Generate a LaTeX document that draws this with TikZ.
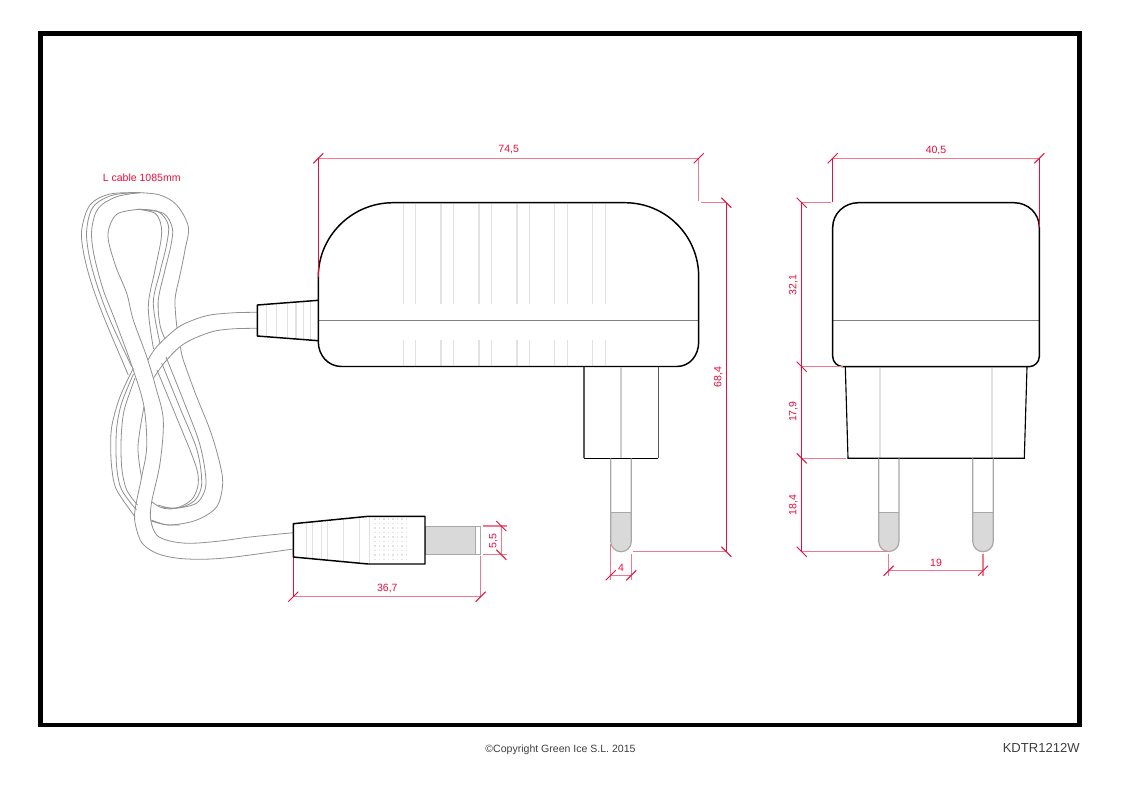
\documentclass[tikz,border=0pt]{standalone}
\usepackage{fontspec}
\setmainfont{Liberation Sans}
\definecolor{dimred}{HTML}{E6103C}
\definecolor{dimpink}{HTML}{F0788C}
\definecolor{cablegr}{HTML}{909090}
\definecolor{ribgr}{HTML}{E2E2E2}
\definecolor{pinfill}{HTML}{D9D9D9}
\definecolor{pinline}{HTML}{A8A8A8}
\tikzset{
  body/.style={draw=black,line width=1.1pt,line join=round},
  midline/.style={draw=black!50,line width=0.6pt},
  rib/.style={draw=ribgr,line width=0.9pt},
  cbl/.style={draw=cablegr,line width=0.6pt,smooth,tension=0.55},
  pinout/.style={draw=pinline,line width=0.9pt},
  dim/.style={draw=dimred,line width=0.75pt},
  diml/.style={draw=dimpink,line width=1.1pt},
  dimtxt/.style={text=dimred,font=\fontsize{7.9}{9}\selectfont,inner sep=0pt},
  foot/.style={text=black!75,inner sep=0pt}
}
\newcommand{\tickF}[2]{\draw[dim] ({#1-5},{#2+5}) -- ({#1+5},{#2-5});}
\newcommand{\tickB}[2]{\draw[dim] ({#1-5},{#2-5}) -- ({#1+5},{#2+5});}
\newcommand{\pinshape}[2]{%
  \fill[pinfill] (#1,512.3) -- (#1,541.4) arc[start angle=180,end angle=0,radius={(#2-#1)/2}] -- (#2,512.3) -- cycle;
  \draw[pinout] (#1,458.3) -- (#1,541.4) arc[start angle=180,end angle=0,radius={(#2-#1)/2}] -- (#2,458.3);
  \draw[draw=pinline,line width=0.7pt] (#1,512.3) -- (#2,512.3);}
\begin{document}
\begin{tikzpicture}[x=0.75pt,y=-0.75pt]
\useasboundingbox (0,0) rectangle (1123,794);
\fill[white] (0,0) rectangle (1123,794);
% frame
\draw[black,line width=3.6pt,line join=miter] (40.5,33.5) rectangle (1079.5,725);

% ===== cable =====
% band through the crossing, left edge
\draw[cbl] plot coordinates {(140,192.7)(116.7,196.7)(98.3,208.3)(91.7,230)(94,255)(103.3,290)(115,320)(133.3,370)(144,406.7)(146.7,446.7)(141.7,476.7)(135,510)(135.5,525)(142,543)(156.7,553.3)(176,558)(200,559.3)(225,558)(250,555)(293.3,549)};
% band, right edge
\draw[cbl] plot coordinates {(138.3,209.3)(118.3,213.3)(110,225)(108.3,240)(116,267)(126.7,293.3)(133.3,320)(146.7,356.7)(156,388)(163.3,420)(160,463.3)(151.7,501.7)(150.7,520)(156.7,535)(170,541)(190,543.3)(220,541)(250,537)(293.3,532.7)};
% outer coil lines, upper left
\draw[cbl] plot coordinates {(140,192.7)(110,194)(90,205)(81.7,230)(84,255)(92,285)(105,320)(128.3,375)};
\draw[cbl] plot coordinates {(140,192.7)(113,195)(93.3,206.7)(86.7,230)(89,255)(97,285)(110,320)(131.7,366.7)};
% inner loop, right side
\draw[cbl] plot coordinates {(138.3,209.3)(155,213.3)(161,225)(161,240)(155,270)(148.3,306.7)(153.5,349)};
\draw[cbl] plot coordinates {(138.3,209.3)(158.3,211.7)(168.3,225)(166.5,245)(160,272)(153.3,303.3)(160,343.5)};
\draw[cbl] plot coordinates {(138.3,209.3)(163.3,213.3)(172.3,228)(171,245)(165,270)(158.3,300)(160,325)(165,339)};
% outer right
\draw[cbl] plot coordinates {(140,192.7)(160,195)(176.7,205)(188.3,226.7)(185,250)(180,275)(175,300)(177,328)};
% strain-relief cable, right of the band
\draw[cbl] plot coordinates {(257.3,312.3)(235,312.7)(210,315)(192,320.5)(176.7,328.3)(156.7,346.7)(148,360)};
\draw[cbl] plot coordinates {(257.3,328.3)(235,328.7)(215,331)(195,338)(180,346.7)(165,362)(153.5,378)};
% lower right loop
\draw[cbl] plot coordinates {(157,370)(176,416)(195,463.3)(198.3,483)(193,498)(182,506)(170,509)(160,507)(151.7,501.7)};
\draw[cbl] plot coordinates {(161.7,363)(180,408)(197,450)(201.7,483)(196,499)(185,506)(172,508.5)(158,505)};
\draw[cbl] plot coordinates {(166,357)(184,402)(200,445)(206,483)(199,501)(187,506.5)(173,508)(162,507)};
\draw[cbl] plot coordinates {(180.5,347)(183.3,360)(196,395)(210,430)(219,460)(222.7,483.3)(216.7,506.7)(196.7,520)(170,525)(151.3,521)};
\draw[cbl] plot coordinates {(151.3,520)(165,524.5)(180,525)};
% lower left coil
\draw[cbl] plot coordinates {(133.3,368.3)(120,396.7)(112,425)(110.7,446.7)(112,470)(116.7,490)(135,516.7)};
\draw[cbl] plot coordinates {(133.5,374)(122,402)(117,425)(116,446.7)(117,470)(121.7,490)(136.5,510)};
\draw[cbl] plot coordinates {(135,378)(125,407)(122,425)(121,446.7)(122,470)(126.7,490)(137.5,505)};
\draw[cbl] plot coordinates {(144,406.7)(138,446.7)(141.7,478.3)};

% ===== strain relief =====
\foreach \x in {266.7,276.7,287.3,296,303.3,310.7}
  \draw[rib] (\x,{305-(\x-257.3)*0.077}) -- (\x,{336+(\x-257.3)*0.077});
\draw[body] (318.3,300.3) -- (257.3,305) -- (257.3,336) -- (318.3,340.7);

% ===== front body =====
\foreach \x in {403.3,415.7,441,453.7,479,491.7,517,529.3,554.7,567.3,592.7,605.3} {
  \draw[rib] (\x,204) -- (\x,303.7);
  \draw[rib] (\x,340) -- (\x,365.5);
}
\draw[midline] (318.3,320.3) -- (698.7,320.3);
\draw[body] (318.3,276.7) .. controls (318.3,236) and (352,202.7) .. (393,202.7) -- (625,202.7)
  .. controls (666,202.7) and (698.7,236) .. (698.7,276.7) -- (698.7,341.7)
  .. controls (698.7,355.3) and (690,366.5) .. (676.7,366.5) -- (341.7,366.5)
  .. controls (328,366.5) and (318.3,355.3) .. (318.3,341.7) -- cycle;
% front plug
\draw[draw=black!20,line width=1pt] (621,367) -- (621,458);
\draw[draw=black!65,line width=0.9pt] (584,366.7) -- (584,458.3);
\draw[draw=black!65,line width=0.9pt] (658.3,366.7) -- (658.3,458.3);
\draw[black,line width=0.85pt] (584,458.3) -- (658.3,458.3);
\pinshape{610.7}{631.3}

% ===== side view =====
\draw[midline] (832.7,320.3) -- (1039.3,320.3);
\draw[body] (832.7,227.3) .. controls (832.7,213.5) and (844.5,202.7) .. (858.3,202.7) -- (1014,202.7)
  .. controls (1028,202.7) and (1039.3,213.5) .. (1039.3,227.3) -- (1039.3,356.5)
  .. controls (1039.3,362) and (1034.5,366.7) .. (1029,366.7) -- (843,366.7)
  .. controls (837.5,366.7) and (832.7,362) .. (832.7,356.5) -- cycle;
\draw[rib,line width=1pt] (880,367.5) -- (880,458);
\draw[rib,line width=1pt] (992,367.5) -- (992,458);
\draw[black,line width=0.85pt] (845.3,366.7) -- (848,458.3) -- (1024.3,458.3) -- (1027,366.7);
\pinshape{878.7}{899}
\pinshape{972.7}{993.3}

% ===== DC plug =====
\foreach \x in {306.7,312.7,321.7,327.3,343.3,359.3}
  \draw[rib] (\x,{523.7-(\x-293.3)*0.0985}) -- (\x,{557+(\x-293.3)*0.0933});
\draw[rib] (369.3,517) -- (369.3,563.5);
\foreach \i in {0,...,7} \foreach \j in {0,...,9}
  \fill[ribgr] ({375+\i*4.5-0.75},{519+\j*4.5-0.75}) rectangle ++(1.5,1.5);
\fill[pinfill] (425,526) rectangle (475.7,554.7);
\draw[draw=pinline,line width=0.7pt] (425,526) rectangle (480.7,554.7);
\draw[draw=pinline,line width=0.7pt] (475.7,526) -- (475.7,554.7);
\draw[body] (293.3,523.7) -- (368.3,516.3) -- (425,516.3) -- (425,564) -- (368.3,564) -- (293.3,557) -- cycle;

% ===== dimensions =====
% 74,5
\draw[diml] (318.3,158.3) -- (698.7,158.3);
\draw[dim] (318.3,158.3) -- (318.3,276.7);
\draw[diml] (698.7,158.3) -- (698.7,201);
\tickF{318.3}{158.3}\tickF{698.7}{158.3}
\node[dimtxt] (t745) at (508.7,150) {74,5};
% 68,4
\draw[dim] (726.3,202.7) -- (726.3,551.7);
\draw[diml] (700.7,202.7) -- (726.3,202.7);
\draw[diml] (632.7,551.7) -- (726.3,551.7);
\tickB{726.3}{202.7}\tickB{726.3}{551.7}
\node[dimtxt,rotate=90] (t684) at (718.3,377.3) {68,4};
% 4
\draw[diml] (610.7,544) -- (610.7,580);
\draw[diml] (631.3,554) -- (631.3,580);
\draw[diml] (610.7,575.3) -- (631.3,575.3);
\tickF{610.7}{575.3}\tickF{631.3}{575.3}
\node[dimtxt] (t4) at (621,568.3) {4};
% 40,5
\draw[diml] (832.7,158.3) -- (1039.3,158.3);
\draw[dim] (832.7,158.3) -- (832.7,201.7);
\draw[dim] (1039.3,158.3) -- (1039.3,226.7);
\tickF{832.7}{158.3}\tickF{1039.3}{158.3}
\node[dimtxt] (t405) at (936,150) {40,5};
% left stack
\draw[dim] (801.7,202.7) -- (801.7,551.7);
\draw[diml] (801.7,202.7) -- (830.7,202.7);
\draw[diml] (801.7,366.7) -- (843,366.7);
\draw[diml] (801.7,458.3) -- (846,458.3);
\draw[diml] (801.7,551.7) -- (887,551.7);
\tickB{801.7}{202.7}\tickB{801.7}{366.7}\tickB{801.7}{458.3}\tickB{801.7}{551.7}
\node[dimtxt,rotate=90] (t321) at (793.3,285) {32,1};
\node[dimtxt,rotate=90] (t179) at (793.3,411.7) {17,9};
\node[dimtxt,rotate=90] (t184) at (793.3,505) {18,4};
% 19
\draw[diml] (888.7,554) -- (888.7,576);
\draw[diml] (983,554) -- (983,576);
\draw[diml] (888.7,570.7) -- (983,570.7);
\tickF{888.7}{570.7}\tickF{983}{570.7}
\node[dimtxt] (t19) at (936,562.7) {19};
% 36,7
\draw[dim] (293.3,558) -- (293.3,597);
\draw[diml] (480.7,555.5) -- (480.7,597);
\draw[diml] (293.3,596.7) -- (480.7,596.7);
\tickF{293.3}{596.7}\tickF{480.7}{596.7}
\node[dimtxt] (t367) at (387.3,588.3) {36,7};
% 5,5
\draw[diml] (482.7,526) -- (506.7,526);
\draw[diml] (482.7,554.7) -- (506.7,554.7);
\draw[diml] (501.3,526) -- (501.3,554.7);
\tickB{501.3}{526}\tickB{501.3}{554.7}
\node[dimtxt,rotate=90] (t55) at (493.3,540.7) {5,5};
% cable label
\node[dimtxt] (tcable) at (141.7,177.3) {L cable 1085mm};

% ===== footer =====
\node[foot,font=\fontsize{7.9}{9}\selectfont] (copy) at (560.5,749.5) {©Copyright Green Ice S.L. 2015};
\node[foot,anchor=east,font=\fontsize{9.8}{11}\selectfont] (code) at (1080,748.3) {KDTR1212W};
\end{tikzpicture}
\end{document}
